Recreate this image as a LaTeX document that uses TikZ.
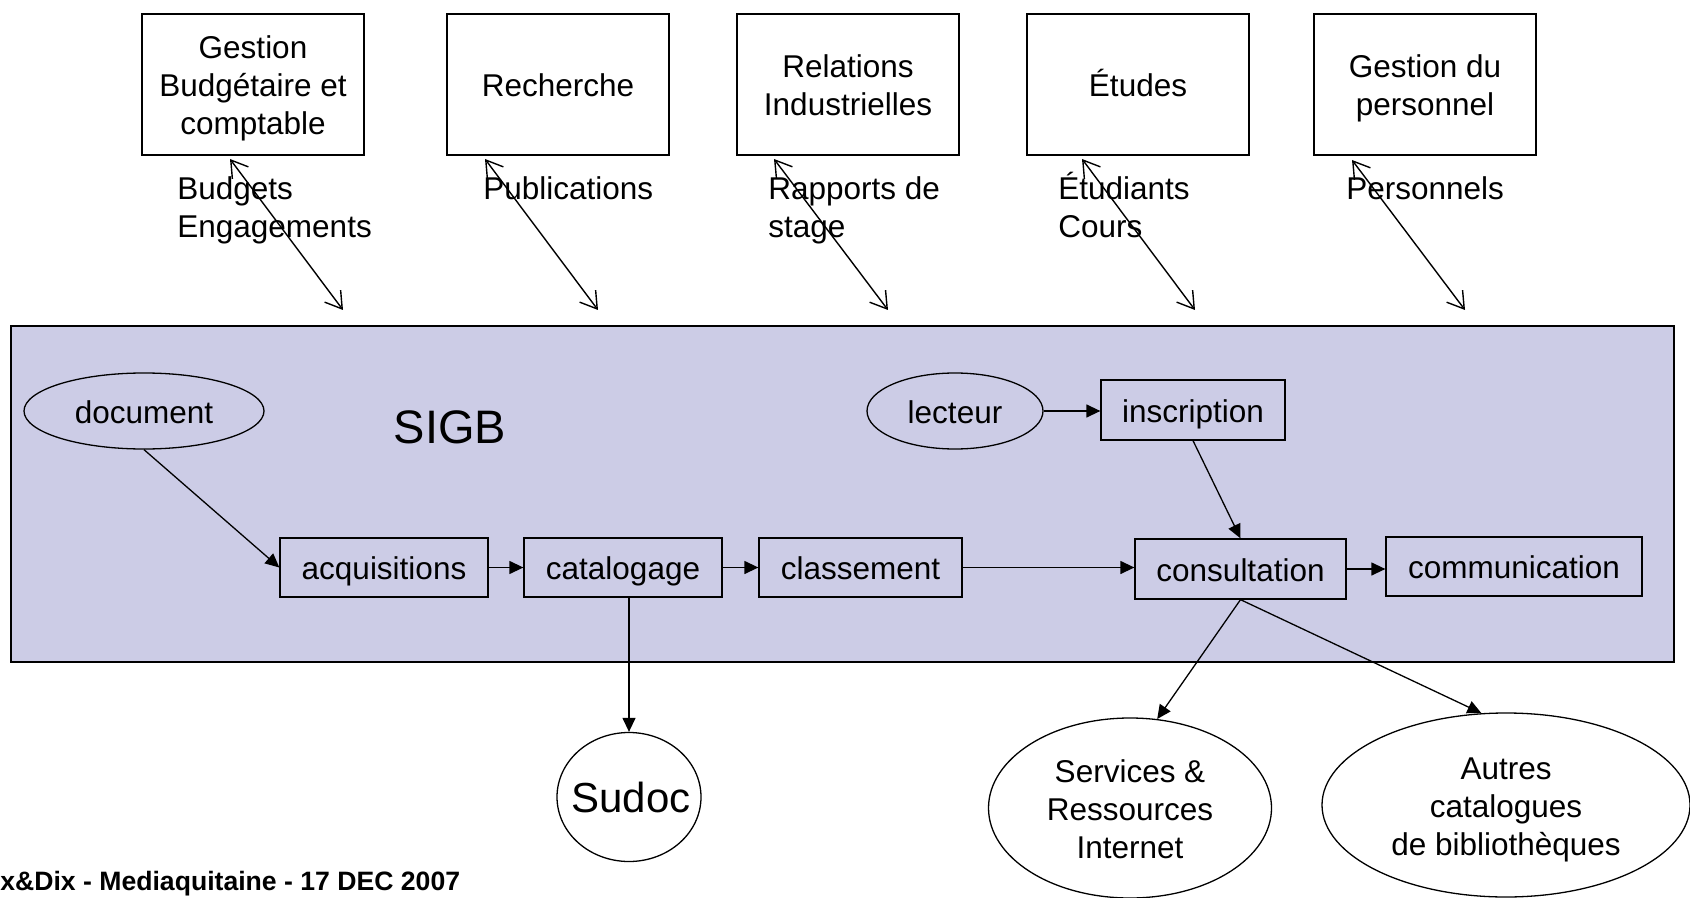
\documentclass[tikz,border=0pt]{standalone}
\usepackage{fontspec}
\setmainfont{Liberation Sans}
\usetikzlibrary{arrows.meta,shapes.geometric}
\definecolor{sigbfill}{RGB}{204,204,230}
% line strut: fixes the baseline of every text line relative to the node centre
\newcommand\lnstrut{\rule[-3.5pt]{0pt}{19pt}}

\begin{document}
\begin{tikzpicture}[x=0.5pt,y=-0.5pt,
  every node/.style={font=\fontsize{15.75}{19}\selectfont},
  topbox/.style={draw, line width=0.75pt, fill=white, minimum width=111pt,
    minimum height=70.5pt, inner sep=0pt, align=center},
  procbox/.style={draw, line width=0.65pt, minimum height=29.5pt, inner sep=0pt},
  oval/.style={draw, ellipse, line width=0.65pt, inner sep=0pt},
  flow/.style={line width=0.65pt, -{Triangle[length=7pt,width=6.5pt]}},
  link/.style={line width=0.7pt,
    {Straight Barb[length=8pt,width=10pt]}-{Straight Barb[length=8pt,width=10pt]}},
  caption/.style={anchor=base west, inner sep=0pt},
]
\useasboundingbox (0,0) rectangle (1690,898);

% services of the institution
\node[topbox] (gb)  at (253,84.5)  {\lnstrut Gestion\\\lnstrut Budgétaire et\\\lnstrut comptable};
\node[topbox] (rch) at (558,84.5)  {\lnstrut Recherche};
\node[topbox] (ri)  at (848,84.5)  {\lnstrut Relations\\\lnstrut Industrielles};
\node[topbox] (etu) at (1138,84.5) {\lnstrut Études};
\node[topbox] (gp)  at (1425,84.5) {\lnstrut Gestion du\\\lnstrut personnel};

% data exchanged with the library system
\node[caption] (lbgb)  at (177,200)  {\begin{tabular}[t]{@{}l@{}}Budgets\\Engagements\end{tabular}};
\node[caption] (lbrch) at (483,200)  {Publications};
\node[caption] (lbri)  at (768,200)  {\begin{tabular}[t]{@{}l@{}}Rapports de\\stage\end{tabular}};
\node[caption] (lbetu) at (1058,200) {\begin{tabular}[t]{@{}l@{}}Étudiants\\Cours\end{tabular}};
\node[caption] (lbgp)  at (1346,200) {Personnels};

% exchange arrows
\coordinate (gbA) at (230,159);  \coordinate (gbB) at (343,310);
\coordinate (rchA) at (485,159); \coordinate (rchB) at (598,310);
\coordinate (riA) at (774,159);  \coordinate (riB) at (888,310);
\coordinate (etuA) at (1082,159);\coordinate (etuB) at (1195,310);
\coordinate (gpA) at (1352,160); \coordinate (gpB) at (1465,310);
\draw[link] (gbA) -- (gbB);
\draw[link] (rchA) -- (rchB);
\draw[link] (riA) -- (riB);
\draw[link] (etuA) -- (etuB);
\draw[link] (gpA) -- (gpB);

% the library management system
\filldraw[fill=sigbfill, draw=black, line width=0.8pt] (11,326) rectangle (1674,662);
\node[font=\fontsize{23.5}{28}\selectfont] (sigb) at (450,427) {SIGB};

\node[oval, minimum width=120pt, minimum height=38pt] (doc) at (144,411) {\lnstrut document};
\node[oval, minimum width=88pt, minimum height=38pt] (lect) at (955,411) {\lnstrut lecteur};

\node[procbox, minimum width=104pt]   (acq)  at (384,567.5)  {\lnstrut acquisitions};
\node[procbox, minimum width=99pt]    (cat)  at (623,567.5)  {\lnstrut catalogage};
\node[procbox, minimum width=101.5pt] (cls)  at (860.5,567.5){\lnstrut classement};
\node[procbox, minimum width=105.5pt, minimum height=30pt] (cons) at (1240.5,569) {\lnstrut consultation};
\node[procbox, minimum width=128pt]   (comm) at (1514,566.5) {\lnstrut communication};
\node[procbox, minimum width=92pt, minimum height=30pt] (insc) at (1193,410) {\lnstrut inscription};

% external resources
\node[oval, minimum width=72pt, minimum height=64.5pt] (sudoc) at (629,797) {};
\node[anchor=base, inner sep=0pt, font=\fontsize{21}{25}\selectfont] (sudoctxt) at (631,812) {Sudoc};
\node[oval, minimum width=141.5pt, minimum height=90pt, align=center] (serv) at (1130,808)
  {\lnstrut Services \&\\\lnstrut Ressources\\\lnstrut Internet};
\node[oval, minimum width=184pt, minimum height=92pt, align=center] (autres) at (1506,805)
  {\lnstrut Autres\\\lnstrut catalogues\\\lnstrut de bibliothèques};

% flows
\draw[flow] (doc.south) -- (acq.west);
\draw[flow] (acq.east) -- (cat.west);
\draw[flow] (cat.east) -- (cls.west);
\draw[flow] (cls.east) -- (cls.east -| cons.west);
\draw[flow] (cons.east) -- (cons.east -| comm.west);
\draw[flow] (lect.east) -- (lect.east -| insc.west);
\draw[flow] (insc.south) -- (cons.north);
\draw[flow] (cat.south -| sudoc.north) -- (sudoc.north);
\draw[flow] (cons.south) -- (serv.73);
\draw[flow] (cons.south) -- (autres.105);

\node[anchor=base west, inner sep=0pt, font=\bfseries\fontsize{13.3}{16}\selectfont] (footer)
  at (0,890) {x\&Dix - Mediaquitaine - 17 DEC 2007};
\end{tikzpicture}
\end{document}
